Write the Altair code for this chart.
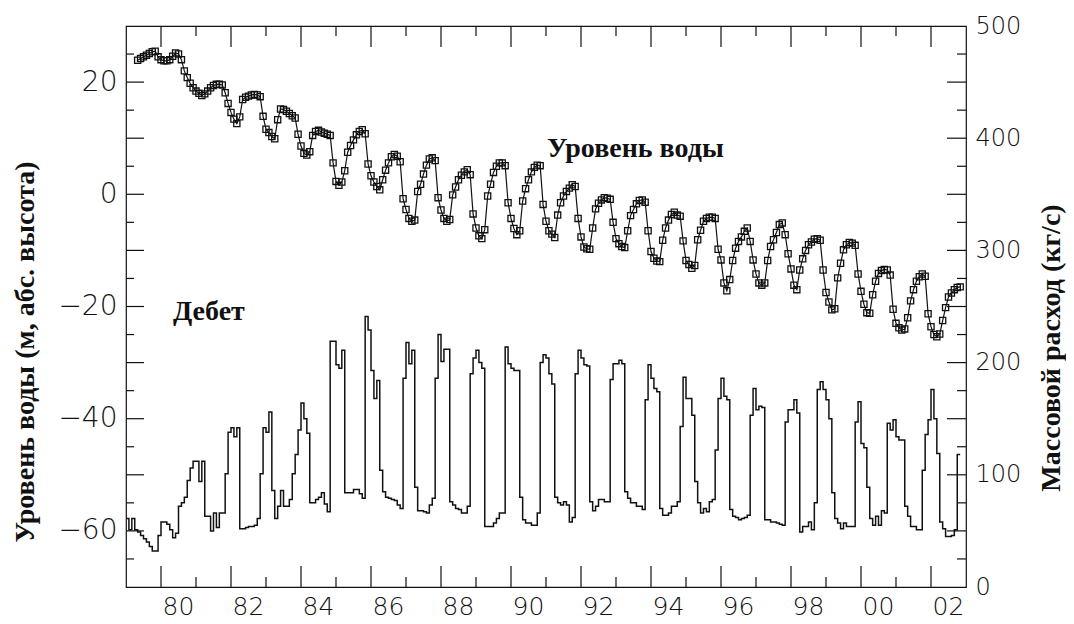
import altair as alt
import pandas as pd

# ---------------- data ----------------
label_years = [1980, 1982, 1984, 1986, 1988, 1990, 1992, 1994, 1996, 1998, 2000, 2002]
minor_years = [1981, 1983, 1985, 1987, 1989, 1991, 1993, 1995, 1997, 1999, 2001]

# Water level (m a.s.l.), monthly, May 1979 .. Nov 2002
level_start_month = 4  # May 1979 (0-based month index from Jan 1979)
level = [
    # 1979 (May-Dec)
    23.9, 24.2, 24.5, 24.8, 25.1, 25.4, 25.5, 24.5,
    # 1980
    24.0, 23.8, 23.8, 24.0, 24.6, 25.2, 25.0, 24.0, 22.0, 20.8, 19.8, 19.0,
    # 1981
    18.4, 18.0, 17.6, 17.9, 18.4, 19.0, 19.4, 19.6, 19.6, 19.5, 18.1, 16.2,
    # 1982
    14.6, 13.4, 12.6, 13.8, 16.9, 17.3, 17.5, 17.7, 17.8, 17.7, 17.4, 13.9,
    # 1983
    11.6, 11.0, 10.3, 9.9, 13.3, 15.2, 15.1, 14.8, 14.4, 14.0, 13.6, 10.7,
    # 1984
    8.6, 7.3, 7.0, 7.6, 10.5, 11.2, 11.4, 11.1, 10.9, 10.7, 10.5, 5.6,
    # 1985
    2.3, 1.6, 2.2, 4.2, 7.5, 8.7, 9.7, 10.6, 11.2, 11.5, 10.8, 5.4,
    # 1986
    3.3, 2.2, 1.4, 0.8, 2.6, 4.3, 5.6, 6.7, 7.1, 6.8, 5.8, -0.8,
    # 1987
    -2.7, -4.3, -4.8, -4.6, 0.5, 1.8, 3.6, 5.2, 6.3, 6.5, 6.0, -0.6,
    # 1988
    -2.8, -4.3, -4.8, -4.5, -0.1, 1.3, 2.6, 3.4, 4.0, 4.4, 3.5, -3.5,
    # 1989
    -6.0, -7.4, -7.9, -6.3, -0.3, 1.8, 3.9, 5.0, 5.6, 5.6, 5.1, -1.5,
    # 1990
    -4.3, -6.1, -7.2, -6.5, -1.2, 1.0, 2.6, 4.0, 4.8, 5.2, 5.1, -1.8,
    # 1991
    -4.8, -6.5, -7.1, -7.7, -3.7, -1.5, -0.3, 0.5, 1.1, 1.7, 1.4, -4.3,
    # 1992
    -7.6, -9.4, -9.7, -9.8, -6.0, -2.6, -1.6, -1.0, -0.6, -0.7, -0.9, -5.0,
    # 1993
    -7.9, -8.8, -9.3, -9.5, -6.5, -3.8, -2.7, -1.7, -1.1, -1.0, -1.4, -6.5,
    # 1994
    -10.2, -11.4, -11.9, -12.0, -8.2, -6.0, -4.6, -3.6, -3.2, -3.7, -3.9, -8.3,
    # 1995
    -11.8, -12.5, -13.2, -12.7, -8.1, -6.4, -4.8, -4.3, -4.1, -4.1, -4.3, -9.8,
    # 1996
    -11.7, -15.8, -17.2, -15.2, -11.8, -9.6, -8.4, -7.6, -6.6, -6.0, -8.4, -11.7,
    # 1997
    -14.2, -15.8, -16.2, -15.8, -11.8, -9.3, -8.1, -6.8, -5.4, -5.1, -7.2, -10.6,
    # 1998
    -13.3, -16.2, -17.0, -13.5, -11.5, -10.0, -9.0, -8.5, -8.0, -7.9, -8.2, -13.5,
    # 1999
    -17.5, -19.2, -20.6, -20.4, -14.9, -12.3, -9.9, -9.0, -8.6, -8.7, -9.1, -14.2,
    # 2000
    -17.3, -19.6, -21.1, -21.2, -17.9, -15.5, -14.1, -13.6, -13.4, -13.5, -14.4, -20.5,
    # 2001
    -23.0, -23.8, -24.2, -24.0, -22.0, -19.0, -17.0, -15.5, -14.7, -14.2, -14.6, -21.3,
    # 2002 (Jan-Nov)
    -23.6, -25.0, -25.4, -24.9, -22.5, -20.2, -18.3, -17.6, -17.0, -16.6, -16.5,
]

# Mass flow rate (kg/s), monthly steps, Jan 1979 ..
flow = [
    # 1979
    61, 51, 61, 51, 49, 46, 43, 40, 36, 32, 32, 46,
    # 1980
    58, 58, 56, 51, 44, 48, 72, 75, 80, 95, 106, 112,
    # 1981
    112, 94, 112, 63, 63, 50, 66, 53, 66, 66, 101, 138,
    # 1982
    142, 134, 142, 52, 52, 53, 54, 54, 55, 61, 101, 142,
    # 1983
    138, 156, 86, 61, 72, 86, 72, 72, 78, 101, 118, 140,
    # 1984
    164, 150, 137, 75, 75, 78, 80, 84, 74, 67, 219, 219,
    # 1985
    198, 195, 211, 84, 84, 84, 87, 87, 83, 79, 241, 229,
    # 1986
    193, 168, 184, 104, 85, 80, 79, 78, 77, 73, 70, 186,
    # 1987
    218, 199, 211, 89, 68, 68, 67, 66, 73, 79, 186, 225,
    # 1988
    201, 212, 212, 76, 73, 70, 69, 66, 66, 72, 190, 204,
    # 1989
    211, 200, 195, 54, 54, 54, 57, 61, 66, 66, 214, 199,
    # 1990
    195, 193, 193, 80, 60, 57, 57, 55, 55, 66, 200, 207,
    # 1991
    204, 190, 181, 80, 75, 73, 76, 73, 58, 62, 190, 211,
    # 1992
    204, 198, 197, 76, 68, 72, 78, 78, 76, 76, 185, 199,
    # 1993
    199, 202, 199, 85, 79, 75, 75, 72, 72, 69, 167, 198,
    # 1994
    186, 177, 174, 70, 64, 64, 66, 72, 72, 76, 143, 187,
    # 1995
    168, 168, 153, 94, 75, 66, 70, 67, 76, 78, 122, 168,
    # 1996
    186, 170, 167, 69, 63, 62, 60, 61, 62, 64, 153, 177,
    # 1997
    158, 161, 160, 60, 60, 58, 58, 57, 56, 55, 147, 158,
    # 1998
    158, 167, 155, 49, 54, 54, 58, 51, 75, 176, 183, 176,
    # 1999
    167, 150, 84, 61, 57, 52, 57, 54, 54, 54, 147, 165,
    # 2000
    128, 124, 89, 61, 55, 63, 55, 68, 66, 146, 140, 149,
    # 2001
    134, 131, 131, 72, 63, 54, 54, 51, 51, 104, 136, 149,
    # 2002
    176, 150, 119, 58, 52, 45, 45, 46, 51, 118, 118,
]

left_labels = [-60, -40, -20, 0, 20]
left_long = [-60, -50, -40, -30, -20, -10, 0, 10, 20]
left_short = [-65, -55, -45, -35, -25, -15, -5, 5, 15, 25]
right_labels = [0, 100, 200, 300, 400, 500]
right_long = [50, 100, 150, 200, 250, 300, 350, 400, 450]
right_short = [25, 75, 125, 175, 225, 275, 325, 375, 425, 475]

# ---------------- chart ----------------
W, H = 840, 561
NUM_FONT = "DejaVu Sans"
TXT_FONT = "Liberation Serif"
INK = "#111111"

lev_df = pd.DataFrame({
    "t": [1979 + (level_start_month + i) / 12 for i in range(len(level))],
    "v": level,
})
flow_df = pd.DataFrame({
    "t": [1979 + i / 12 for i in range(len(flow))],
    "q": flow,
})

XD = [1979, 2003]
YLD = [-70, 30]
YRD = [0, 500]


def xsc():
    return alt.Scale(domain=XD, nice=False, zero=False)


def ylsc():
    return alt.Scale(domain=YLD, nice=False, zero=False)


def yrsc():
    return alt.Scale(domain=YRD, nice=False, zero=False)


# one identical x axis definition shared by every layer that uses x
x_axis = alt.Axis(
    orient="bottom", values=label_years, title=None,
    labelExpr="slice(format(datum.value, 'd'), 2)",
    ticks=False, domain=False, grid=False,
    labelFont=NUM_FONT, labelFontSize=25, labelFontWeight=200, labelColor=INK,
    labelPadding=7, labelOffset=17, labelOverlap=False, labelFlush=False,
)
yl_axis = alt.Axis(
    orient="left", values=left_labels, format="d", title=None,
    ticks=False, domain=False, grid=False,
    labelFont=NUM_FONT, labelFontSize=28, labelFontWeight=200, labelColor=INK,
    labelPadding=9, labelOverlap=False, labelFlush=False,
)
yr_axis = alt.Axis(
    orient="right", values=right_labels, format="d", title=None,
    ticks=False, domain=False, grid=False,
    labelFont=NUM_FONT, labelFontSize=24, labelFontWeight=200, labelColor=INK,
    labelPadding=9, labelOverlap=False, labelFlush=False,
)


def X(field="t"):
    return alt.X(f"{field}:Q", scale=xsc(), axis=x_axis)


level_line = alt.Chart(lev_df).mark_line(color=INK, strokeWidth=1.2).encode(
    x=X(),
    y=alt.Y("v:Q", scale=ylsc(), axis=yl_axis),
)
level_pts = alt.Chart(lev_df).mark_point(
    shape="square", filled=False, size=38, color=INK, strokeWidth=1.3, opacity=1
).encode(
    x=X(),
    y=alt.Y("v:Q", scale=ylsc(), axis=None),
)
flow_line = alt.Chart(flow_df).mark_line(color=INK, strokeWidth=1.5, interpolate="step-after").encode(
    x=X(),
    y=alt.Y("q:Q", scale=yrsc(), axis=yr_axis),
)


def yticks(values, scale, x0, x1):
    return alt.Chart(pd.DataFrame({"v": values})).mark_rule(color=INK, strokeWidth=1.2).encode(
        y=alt.Y("v:Q", scale=scale, axis=None),
        x=alt.value(x0), x2=alt.value(x1),
    )


def xticks(values, y0, y1):
    return alt.Chart(pd.DataFrame({"t": values})).mark_rule(color=INK, strokeWidth=1.2).encode(
        x=X(),
        y=alt.value(y0), y2=alt.value(y1),
    )


def label(text, x, y, size=28, angle=0, align="left", baseline="alphabetic"):
    return alt.Chart(pd.DataFrame({"s": [text]})).mark_text(
        font=TXT_FONT, fontSize=size, fontWeight="bold", color=INK,
        angle=angle, align=align, baseline=baseline,
    ).encode(text="s:N", x=alt.value(x), y=alt.value(y))


chart = alt.layer(
    level_line,
    flow_line,
    level_pts,
    yticks(left_long, ylsc(), 0, 18),
    yticks(left_short, ylsc(), 0, 8),
    yticks(right_long, yrsc(), W, W - 19),
    yticks(right_short, yrsc(), W, W - 9),
    xticks(label_years, H, H - 21),
    xticks(minor_years, H, H - 10),
    xticks(label_years, 0, 21),
    xticks(minor_years, 0, 10),
    label("Уровень воды", 421, 131),
    label("Дебет", 47, 294),
    label("Уровень воды (м, абс. высота)", -100, 326, angle=270, align="center", baseline="middle"),
    label("Массовой расход (кг/с)", 926, 322, angle=270, align="center", baseline="middle"),
).resolve_scale(y="independent").properties(
    width=W, height=H,
    autosize=alt.AutoSizeParams(type="none"),
    padding={"left": 118, "top": 18, "right": 100, "bottom": 36},
    background="white",
).configure_view(stroke=INK, strokeWidth=1.2)

chart.save("out.html", embed_options={"renderer": "svg", "actions": False})
